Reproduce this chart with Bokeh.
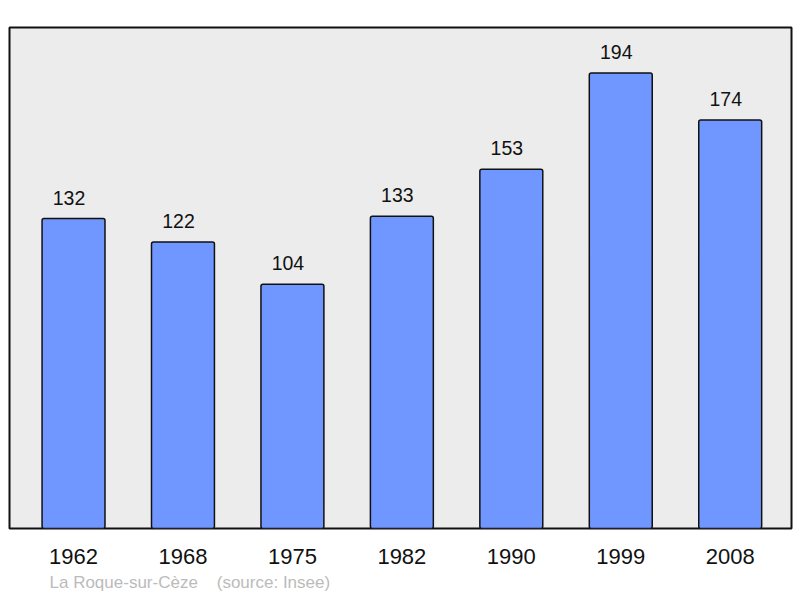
from bokeh.plotting import figure
from bokeh.models import Range1d, FixedTicker, Title, ColumnDataSource
from bokeh.core.properties import value
from bokeh.embed import file_html
from bokeh.resources import INLINE

years = ["1962", "1968", "1975", "1982", "1990", "1999", "2008"]
population = [132, 122, 104, 133, 153, 194, 174]
footer = "La Roque-sur-Cèze\u00a0\u00a0\u00a0\u00a0(source: Insee)"

xs = list(range(len(years)))
src = ColumnDataSource(dict(x=xs, y=population, lbl=[str(v) for v in population]))

p = figure(frame_width=782, frame_height=501, output_backend="svg", toolbar_location=None,
           x_range=Range1d(-0.585, len(years) - 1 + 0.56),
           y_range=Range1d(0, max(population) * 1.1),
           min_border_left=9, min_border_right=9, min_border_top=27, min_border_bottom=2)
p.background_fill_color = "#ececec"
p.border_fill_color = "white"
p.outline_line_color = "#111111"
p.outline_line_width = 2
p.grid.visible = False
p.yaxis.visible = False

p.vbar(x="x", top="y", width=0.575, bottom=0, source=src,
       fill_color="#7096ff", line_color="#111111", line_width=1.5,
       border_radius=2)

p.text(x="x", y="y", text="lbl", source=src, text_align="center", text_baseline="alphabetic",
       x_offset=-4.5, y_offset=-21, text_font=value("Liberation Sans"),
       text_font_size="19.5px", text_color="#111111")

ax = p.xaxis[0]
ax.ticker = FixedTicker(ticks=xs)
ax.major_label_overrides = {i: y for i, y in enumerate(years)}
ax.axis_line_color = None
ax.major_tick_line_color = None
ax.minor_tick_line_color = None
ax.major_label_standoff = 14
ax.major_label_text_font = "Liberation Sans"
ax.major_label_text_font_size = "22px"
ax.major_label_text_color = "#111111"

p.add_layout(Title(text=footer, align="left", offset=40, text_font="Liberation Sans",
                   text_font_size="17px", text_font_style="normal",
                   text_color="#bbbbbb", standoff=9), "below")

open("out.html", "w").write(file_html(p, INLINE))
